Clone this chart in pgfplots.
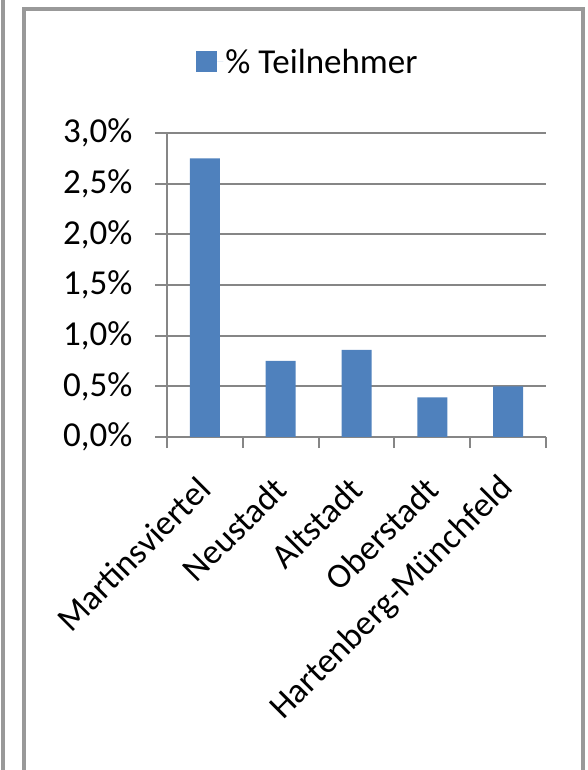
\documentclass[border=0pt]{standalone}
\usepackage{fontspec}
\setmainfont{Carlito}
\usepackage{pgfplots}
\pgfplotsset{compat=1.18}
\definecolor{barblue}{HTML}{4F81BD}
\definecolor{gridgray}{HTML}{868686}
\definecolor{framegray}{HTML}{999999}
\newcommand{\chartfont}{\fontsize{35}{42}\selectfont}

\begin{document}
\begin{tikzpicture}[x=1pt,y=1pt]
\path[use as bounding box] (0,0) rectangle (587,770);
% frames around the chart
\draw[framegray, line width=3.5pt] (3,-5) -- (3,775);
\draw[framegray, line width=3.5pt] (24,-5) -- (24,761) -- (583,761) -- (583,-5);
\begin{axis}[
    at={(167pt,333pt)}, anchor=south west,
    scale only axis, width=379pt, height=304pt,
    xmin=-0.5, xmax=4.5, ymin=0, ymax=3,
    enlargelimits=false,
    axis x line*=bottom, axis y line*=left,
    axis line style={gridgray, line width=2.5pt},
    ytick={0,0.5,1,1.5,2,2.5,3},
    yticklabel={\pgfmathprintnumber[fixed,fixed zerofill,precision=1,use comma]{\tick}\%},
    /pgf/number format/assume math mode=true,
    xtick={0,1,2,3,4},
    xticklabels={Martinsviertel,Neustadt,Altstadt,Oberstadt,Hartenberg-Münchfeld},
    minor xtick={-0.5,0.5,1.5,2.5,3.5,4.5},
    tick align=outside,
    tick style={gridgray, line width=2pt},
    major x tick style={draw=none},
    major tick length=12pt, minor tick length=11pt,
    ymajorgrids,
    grid style={gridgray, line width=2pt},
    ticklabel style={font=\chartfont, text=black},
    yticklabel style={xshift=-19pt},
    xticklabel style={xshift=2pt, yshift=-32pt, rotate=45, anchor=east},
    legend style={at={(0.372,1.234)}, anchor=center, draw=none, fill=none,
        font=\chartfont},
    legend image code/.code={
        \fill[#1,draw=none] (0pt,-10pt) rectangle (21pt,11pt);
        \path (21pt,0pt) -- (27pt,0pt);},
]
\addplot[ybar, bar width=30pt, fill=barblue, draw=none] coordinates {
    (0, 2.75)
    (1, 0.75)
    (2, 0.86)
    (3, 0.39)
    (4, 0.50)
};
\addlegendentry{\% Teilnehmer}
\end{axis}
\end{tikzpicture}
\end{document}
